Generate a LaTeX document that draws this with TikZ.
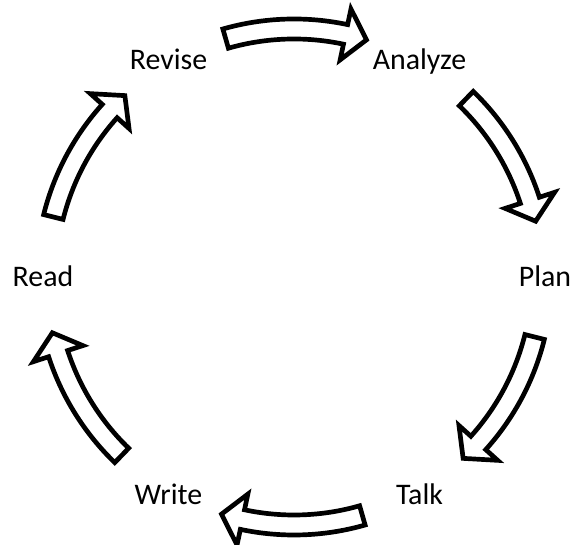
\documentclass[tikz,border=0pt]{standalone}
\usepackage{fontspec}
\setmainfont{Carlito}
\usetikzlibrary{arrows,calc}

\def\px{0.03cm}
\tikzset{
  lbl/.style={font=\fontsize{25.5}{30}\selectfont, anchor=base, inner sep=0pt},
  blockarrow/.style={draw=black, line width=4pt, fill=white, line join=miter}
}
% curved block arrow centred on angle #1, running clockwise
\newcommand\cycarrow[1]{%
  \draw[blockarrow] ($(c)+(#1+16:258*\px)$) arc[start angle=#1+16, end angle=#1-12, radius=258*\px]
    -- ($(c)+(#1-12:274*\px)$) -- ($(c)+(#1-17:248*\px)$) -- ($(c)+(#1-12:222*\px)$)
    -- ($(c)+(#1-12:238*\px)$) arc[start angle=#1-12, end angle=#1+16, radius=238*\px] -- cycle;}

\begin{document}
\begin{tikzpicture}[x=\px,y=\px]
    \useasboundingbox (0,0) rectangle (582,545);
    \coordinate (c) at (294,268);
    \coordinate (b) at (294,258);
    \node[lbl] (revise) at ($(b)+(120:251*\px)$) {Revise};
    \node[lbl] (analyze) at ($(b)+(60:251*\px)$) {Analyze};
    \node[lbl] (plan) at ($(b)+(0:251*\px)$) {Plan};
    \node[lbl] (talk) at ($(b)+(-60:251*\px)$) {Talk};
    \node[lbl] (write) at ($(b)+(-120:251*\px)$) {Write};
    \node[lbl] (read) at ($(b)+(180:251*\px)$) {Read};
    \foreach \m in {90,30,-30,-90,-150,150}
        \cycarrow{\m};
\end{tikzpicture}
\end{document}
